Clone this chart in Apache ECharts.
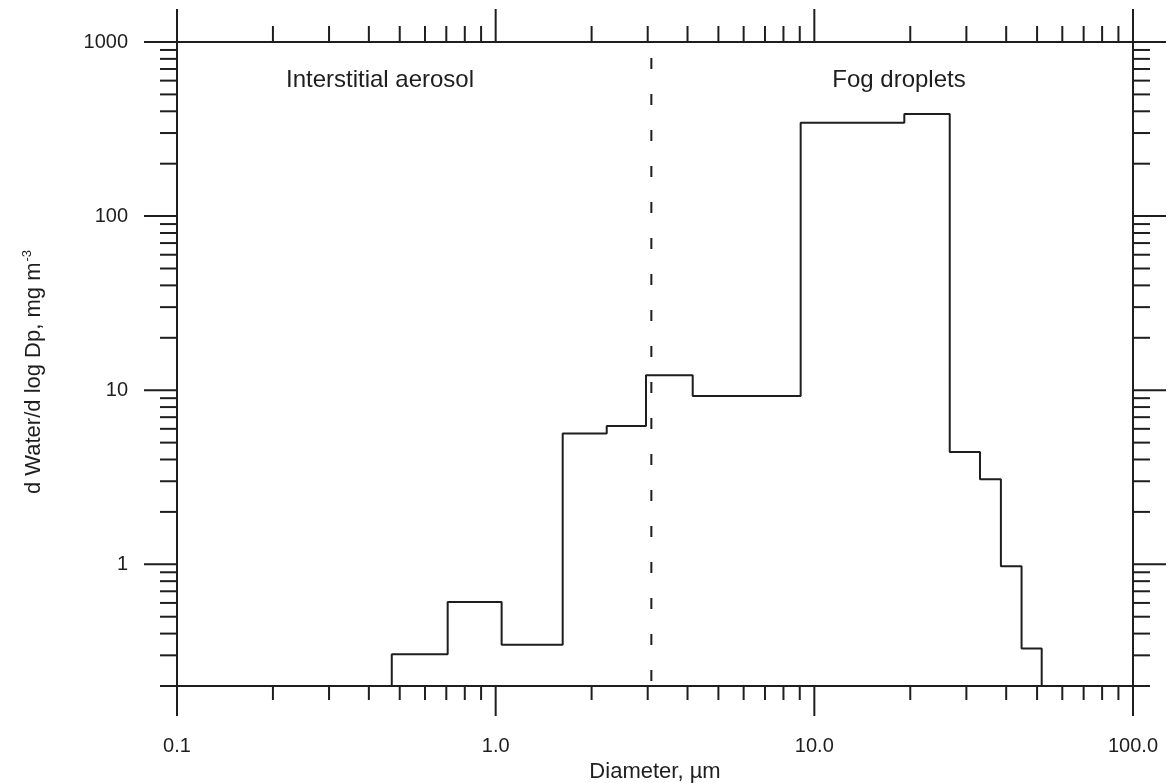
<!DOCTYPE html>
<html>
<head>
<meta charset="utf-8">
<script src="https://cdn.jsdelivr.net/npm/echarts@6/dist/echarts.min.js"></script>
<style>
  html, body { margin: 0; padding: 0; background: #ffffff; }
  #chart { width: 1171px; height: 783px; }
</style>
</head>
<body>
<div id="chart"></div>
<script>
// Bin edges of the water size distribution (diameter, µm)
const binEdges = [0.472, 0.707, 1.044, 1.623, 2.231, 2.963, 4.153, 9.06, 19.16, 26.6, 33.1, 38.5, 44.7, 51.7];
// d Water / d log Dp in each bin (mg m^-3)
const binValues = [0.304, 0.607, 0.345, 5.64, 6.23, 12.2, 9.27, 344, 386, 4.42, 3.08, 0.974, 0.328];
// Cut between interstitial aerosol and fog droplets (µm)
const cutDiameter = 3.08;
// Decade labels
const xTickLabels = ['0.1', '1.0', '10.0', '100.0'];
const yTickLabels = ['1', '10', '100', '1000'];
const regionLabels = ['Interstitial aerosol', 'Fog droplets'];

const X_MIN = 0.1, X_MAX = 100, Y_MIN = 0.2, Y_MAX = 1000;
const INK = '#1e1e1e';
const FONT = '"Liberation Sans", Arial, Helvetica, sans-serif';

// Outline of the histogram: up at the first edge, across each bin, down at the last edge
const stepPoints = [[binEdges[0], Y_MIN]];
binValues.forEach(function (v, i) {
  stepPoints.push([binEdges[i], v]);
  stepPoints.push([binEdges[i + 1], v]);
});
stepPoints.push([binEdges[binEdges.length - 1], Y_MIN]);

// Logarithmic tick marks on all four sides: [x, y, side, isDecade]
// side: 0 bottom, 1 top, 2 left, 3 right
const tickItems = [];
for (let e = -1; e <= 2; e++) {
  for (let k = 1; k <= 9; k++) {
    const v = k * Math.pow(10, e);
    if (v > X_MAX * 1.0001) break;
    tickItems.push([v, Y_MIN, 0, k === 1 ? 1 : 0]);
    tickItems.push([v, Y_MAX, 1, k === 1 ? 1 : 0]);
  }
}
for (let e = -1; e <= 3; e++) {
  for (let k = 1; k <= 9; k++) {
    const v = k * Math.pow(10, e);
    if (v < Y_MIN * 0.9999) continue;
    if (v > Y_MAX * 1.0001) break;
    tickItems.push([X_MIN, v, 2, k === 1 ? 1 : 0]);
    tickItems.push([X_MAX, v, 3, k === 1 ? 1 : 0]);
  }
}
const TICK_LEN = {
  0: [14, 30],
  1: [16, 33],
  2: [17, 33],
  3: [17, 33]
};

function renderTick(params, api) {
  const side = api.value(2);
  const major = api.value(3);
  const p = api.coord([api.value(0), api.value(1)]);
  const len = TICK_LEN[side][major ? 1 : 0];
  let x2 = p[0], y2 = p[1];
  if (side === 0) y2 += len;
  else if (side === 1) y2 -= len;
  else if (side === 2) x2 -= len;
  else x2 += len;
  return {
    type: 'line',
    shape: { x1: p[0], y1: p[1], x2: x2, y2: y2 },
    style: { stroke: INK, lineWidth: 2 }
  };
}

function decadeIndex(v) {
  const l = Math.log10(v);
  const r = Math.round(l);
  return Math.abs(l - r) < 1e-6 ? r : null;
}

const chart = echarts.init(document.getElementById('chart'), null, { renderer: 'canvas' });

const hiddenAxisParts = {
  axisTick: { show: false },
  splitLine: { show: false },
  minorTick: { show: false },
  minorSplitLine: { show: false }
};

chart.setOption({
  backgroundColor: '#ffffff',
  animation: false,
  grid: { left: 177, right: 38, top: 42, bottom: 97, containLabel: false, outerBoundsMode: 'none' },
  xAxis: [
    Object.assign({
      type: 'log', logBase: 10, min: X_MIN, max: X_MAX, position: 'bottom',
      axisLine: { show: true, lineStyle: { color: INK, width: 2 } },
      axisLabel: {
        margin: 50, fontSize: 20, color: INK, fontFamily: FONT,
        formatter: function (v) {
          const d = decadeIndex(v);
          return d === null ? '' : (xTickLabels[d + 1] || '');
        }
      },
      name: 'Diameter, µm', nameLocation: 'middle', nameGap: 69,
      nameTextStyle: { fontSize: 22, color: INK, fontFamily: FONT }
    }, hiddenAxisParts),
    Object.assign({
      type: 'log', logBase: 10, min: X_MIN, max: X_MAX, position: 'top',
      axisLine: { show: true, lineStyle: { color: INK, width: 2 } },
      axisLabel: { show: false }
    }, hiddenAxisParts)
  ],
  yAxis: [
    Object.assign({
      type: 'log', logBase: 10, min: Y_MIN, max: Y_MAX, position: 'left',
      axisLine: { show: true, lineStyle: { color: INK, width: 2 } },
      axisLabel: {
        margin: 49, fontSize: 20, color: INK, fontFamily: FONT,
        formatter: function (v) {
          const d = decadeIndex(v);
          return d === null ? '' : (yTickLabels[d] || '');
        }
      }
    }, hiddenAxisParts),
    Object.assign({
      type: 'log', logBase: 10, min: Y_MIN, max: Y_MAX, position: 'right',
      axisLine: { show: true, lineStyle: { color: INK, width: 2 } },
      axisLabel: { show: false }
    }, hiddenAxisParts)
  ],
  graphic: [
    {
      type: 'text', x: 33, y: 372, rotation: Math.PI / 2,
      style: {
        text: '{m|d Water/d log Dp, mg m}{s|-3}',
        align: 'center', verticalAlign: 'middle',
        rich: {
          m: { fontSize: 22, fontFamily: FONT, fill: INK, verticalAlign: 'bottom' },
          s: { fontSize: 13, fontFamily: FONT, fill: INK, verticalAlign: 'bottom', padding: [0, 0, 11, 1] }
        }
      }
    },
    {
      type: 'text', x: 380, y: 80,
      style: { text: regionLabels[0], fontSize: 24, fontFamily: FONT, fill: INK, align: 'center', verticalAlign: 'middle' }
    },
    {
      type: 'text', x: 899, y: 80,
      style: { text: regionLabels[1], fontSize: 24, fontFamily: FONT, fill: INK, align: 'center', verticalAlign: 'middle' }
    }
  ],
  series: [
    {
      type: 'line',
      xAxisIndex: 0, yAxisIndex: 0,
      data: stepPoints,
      showSymbol: false, symbol: 'none',
      lineStyle: { color: INK, width: 2 },
      silent: true, z: 3
    },
    {
      type: 'line',
      xAxisIndex: 0, yAxisIndex: 0,
      data: [[cutDiameter, Y_MAX], [cutDiameter, Y_MIN]],
      showSymbol: false, symbol: 'none',
      lineStyle: { color: INK, width: 2, type: [11, 25], dashOffset: 20 },
      silent: true, z: 2
    },
    {
      type: 'custom',
      xAxisIndex: 0, yAxisIndex: 0,
      renderItem: renderTick,
      data: tickItems,
      encode: { x: 0, y: 1 },
      clip: false, silent: true, z: 4
    }
  ]
});
</script>
</body>
</html>
